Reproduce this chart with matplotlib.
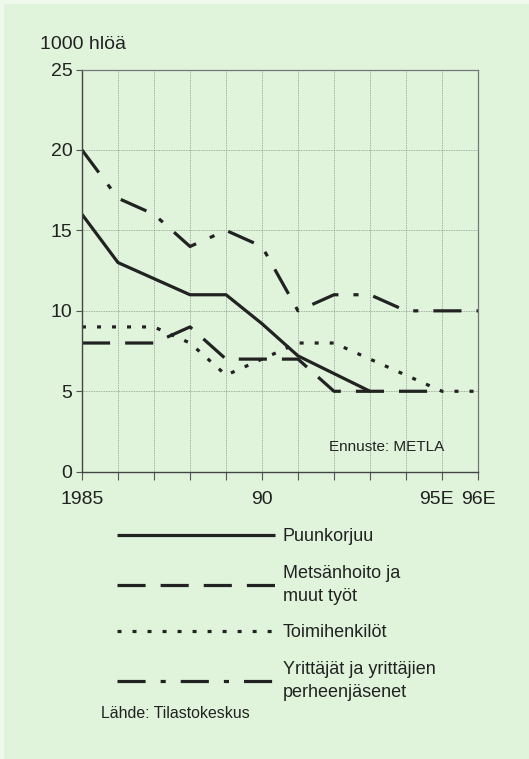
import matplotlib.pyplot as plt
from matplotlib.patches import Rectangle
from matplotlib.transforms import ScaledTranslation

plt.rcParams['font.family'] = ['Liberation Sans', 'DejaVu Sans']

years = [1985, 1986, 1987, 1988, 1989, 1990, 1991, 1992, 1993, 1994, 1995, 1996]
tick_labels = ['1985', '', '', '', '', '90', '', '', '', '', '95E', '96E']

# thousand persons
puunkorjuu = [16, 13, 12, 11, 11, 9.2, 7.2, 6.1, 5]
metsanhoito = [8, 8, 8, 9, 7, 7, 7, 5, 5, 5, 5]
toimihenkilot = [9, 9, 9, 8, 6, 7, 8, 8, 7, 6, 5, 5]
yrittajat = [20, 17, 16, 14, 15, 14, 10, 11, 11, 10, 10, 10]

labels = ['Puunkorjuu', 'Metsänhoito ja\nmuut työt', 'Toimihenkilöt',
          'Yrittäjät ja yrittäjien\nperheenjäsenet']

bg = '#dff4db'
ink = '#222222'
lw = 2.3

fig = plt.figure(figsize=(5.29, 7.59), dpi=100, facecolor='#eef9ec')
fig.patches.append(Rectangle((0.007, 0), 0.993, 0.995, transform=fig.transFigure,
                             facecolor=bg, edgecolor='none', zorder=-1))
ax = fig.add_axes([0.155, 0.3785, 0.7486, 0.5299])
ax.set_facecolor(bg)

l1, = ax.plot(years[:len(puunkorjuu)], puunkorjuu, color=ink, lw=lw,
              solid_capstyle='butt')
l2, = ax.plot(years[:len(metsanhoito)], metsanhoito, color=ink, lw=lw,
              linestyle=(0, (8.8, 4.7)), dash_capstyle='butt')
l3, = ax.plot(years, toimihenkilot, color=ink, lw=lw,
              linestyle=(0, (1.25, 3.45)), dash_capstyle='butt')
l4, = ax.plot(years, yrittajat, color=ink, lw=lw,
              linestyle=(0, (8.8, 4.7, 1.6, 4.7)), dash_capstyle='butt')

ax.set_xlim(1985, 1996)
ax.set_ylim(0, 25)
ax.set_xticks(years)
ax.set_xticklabels(tick_labels)
ax.set_yticks([0, 5, 10, 15, 20, 25])
ax.grid(True, color='#8a9a88', lw=0.6, linestyle=(0, (1, 1)))
ax.tick_params(axis='x', direction='out', length=6, width=0.8, color='#555555',
               labelsize=14, pad=8, labelcolor=ink)
ax.tick_params(axis='y', direction='out', length=4, width=0.8, color='#555555',
               labelsize=14, pad=3, labelcolor=ink)
for s in ['left', 'bottom']:
    ax.spines[s].set_color('#444444')
    ax.spines[s].set_linewidth(1.0)
for s in ['top', 'right']:
    ax.spines[s].set_color('#777777')
    ax.spines[s].set_linewidth(0.9)

# nudge 95E left so it does not touch 96E
lbl = ax.get_xticklabels()[10]
lbl.set_transform(lbl.get_transform() + ScaledTranslation(-0.06, 0, fig.dpi_scale_trans))

ax.text(0.769, 0.061, 'Ennuste: METLA', transform=ax.transAxes, ha='center',
        va='center', fontsize=11, color=ink)
fig.text(0.076, 0.942, '1000 hlöä', fontsize=14, color=ink, va='center')

leg = fig.legend([l1, l2, l3, l4], labels, loc='upper left',
                 bbox_to_anchor=(0.221, 0.3045), frameon=False, fontsize=13,
                 handlelength=8.75, handletextpad=0.44, labelspacing=1.1,
                 borderpad=0, borderaxespad=0)
for t in leg.get_texts():
    t.set_linespacing(1.45)
    t.set_color(ink)

fig.text(0.19, 0.06, 'Lähde: Tilastokeskus', fontsize=11.4, color=ink, va='center')

fig.savefig('out.png', dpi=100, facecolor=fig.get_facecolor())
